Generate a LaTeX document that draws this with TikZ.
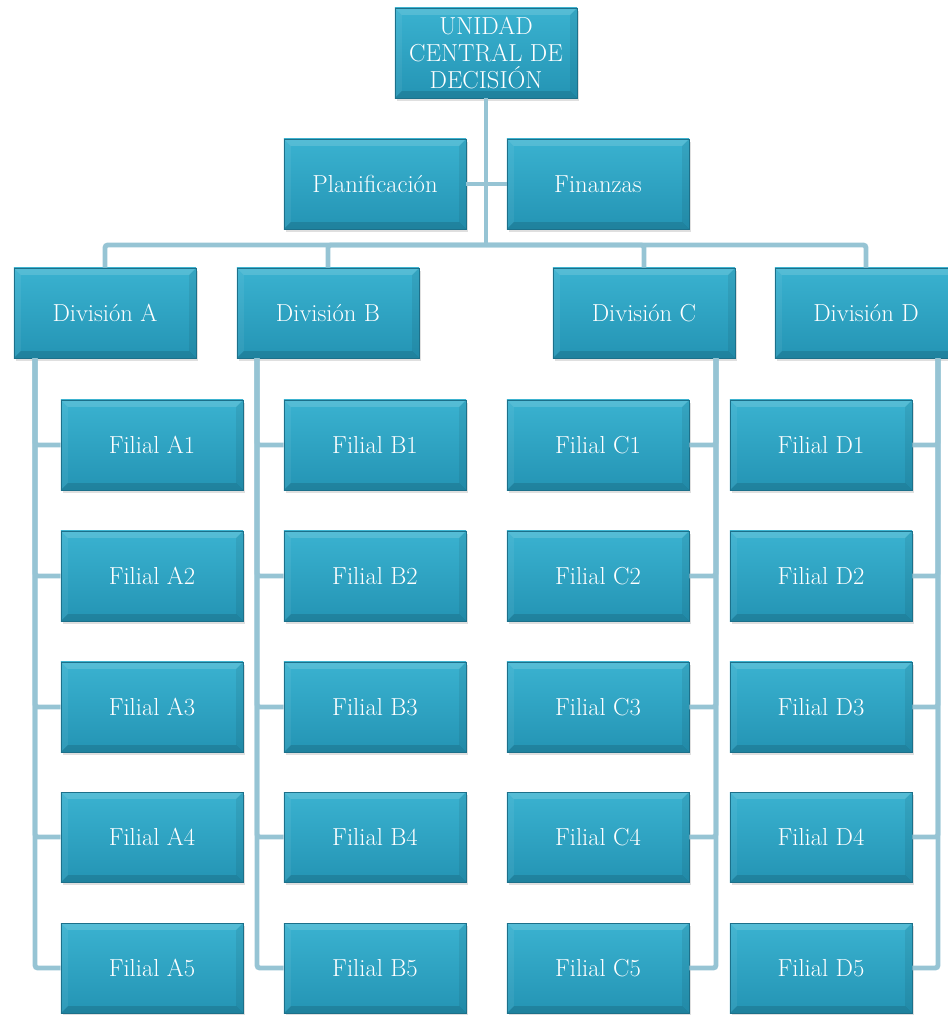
\documentclass[tikz,border=0pt]{standalone}
\usetikzlibrary{shadows}

\definecolor{boxtop}{RGB}{58,178,208}
\definecolor{boxbot}{RGB}{36,148,180}
\definecolor{boxedge}{RGB}{28,112,138}
\definecolor{linkcol}{RGB}{150,196,212}

% bevel of the boxes
\newcommand{\boxbevel}{%
	\coordinate (bb-nw) at (path picture bounding box.north west);
	\coordinate (bb-ne) at (path picture bounding box.north east);
	\coordinate (bb-sw) at (path picture bounding box.south west);
	\coordinate (bb-se) at (path picture bounding box.south east);
	\fill[white, opacity=0.14] (bb-nw) -- (bb-ne) -- ([xshift=-0.17cm, yshift=-0.17cm]bb-ne) -- ([xshift=0.17cm, yshift=-0.17cm]bb-nw) -- cycle;
	\fill[white, opacity=0.06] (bb-nw) -- (bb-sw) -- ([xshift=0.17cm, yshift=0.17cm]bb-sw) -- ([xshift=0.17cm, yshift=-0.17cm]bb-nw) -- cycle;
	\fill[black, opacity=0.12] (bb-sw) -- (bb-se) -- ([xshift=-0.17cm, yshift=0.17cm]bb-se) -- ([xshift=0.17cm, yshift=0.17cm]bb-sw) -- cycle;
	\fill[black, opacity=0.07] (bb-ne) -- (bb-se) -- ([xshift=-0.17cm, yshift=0.17cm]bb-se) -- ([xshift=-0.17cm, yshift=-0.17cm]bb-ne) -- cycle;
}

\tikzstyle{unit}=[rectangle, minimum width=4.55cm, minimum height=2.25cm, inner sep=2pt,
	top color=boxtop, bottom color=boxbot, draw=boxedge, line width=0.4pt,
	text=white, align=center, font=\fontsize{17.5}{19}\selectfont,
	drop shadow={opacity=0.25, shadow xshift=0.04cm, shadow yshift=-0.07cm},
	path picture={\boxbevel}]
\tikzstyle{link}=[linkcol, line width=3.5pt, rounded corners=2pt]

\begin{document}
\begin{tikzpicture}[x=0.025cm, y=-0.025cm]
	\useasboundingbox (0,0) rectangle (948,1015);

	% Head of the chart
	\node[unit] (unidad) at (486, 53) {UNIDAD\\CENTRAL DE\\DECISIÓN};
	\node[unit] (plan)   at (375,184) {Planificación};
	\node[unit] (fin)    at (598,184) {Finanzas};

	% Divisions
	\node[unit] (divA) at (105,313) {División A};
	\node[unit] (divB) at (328,313) {División B};
	\node[unit] (divC) at (644,313) {División C};
	\node[unit] (divD) at (866,313) {División D};

	% Subsidiaries
	\foreach \d/\x in {A/152, B/375, C/598, D/821}{
		\foreach \i/\y in {1/445, 2/576, 3/707, 4/837, 5/968}{
			\node[unit] (fil\d\i) at (\x,\y) {Filial \d\i};
		}
	}

	% Connectors
	\coordinate (bus) at (486,245);
	\draw[link] (unidad) -- (bus);
	\draw[link] (plan) -- (fin);
	\draw[link] (divA) |- (bus) -| (divD);
	\draw[link] (divB) |- (bus);
	\draw[link] (divC) |- (bus);

	\coordinate (spineA) at ( 35,358);
	\coordinate (spineB) at (257,358);
	\coordinate (spineC) at (716,358);
	\coordinate (spineD) at (938,358);
	\foreach \d in {A, B, C, D}{
		\foreach \i in {1,...,5}{ \draw[link] (spine\d) |- (fil\d\i); }
	}
\end{tikzpicture}
\end{document}
